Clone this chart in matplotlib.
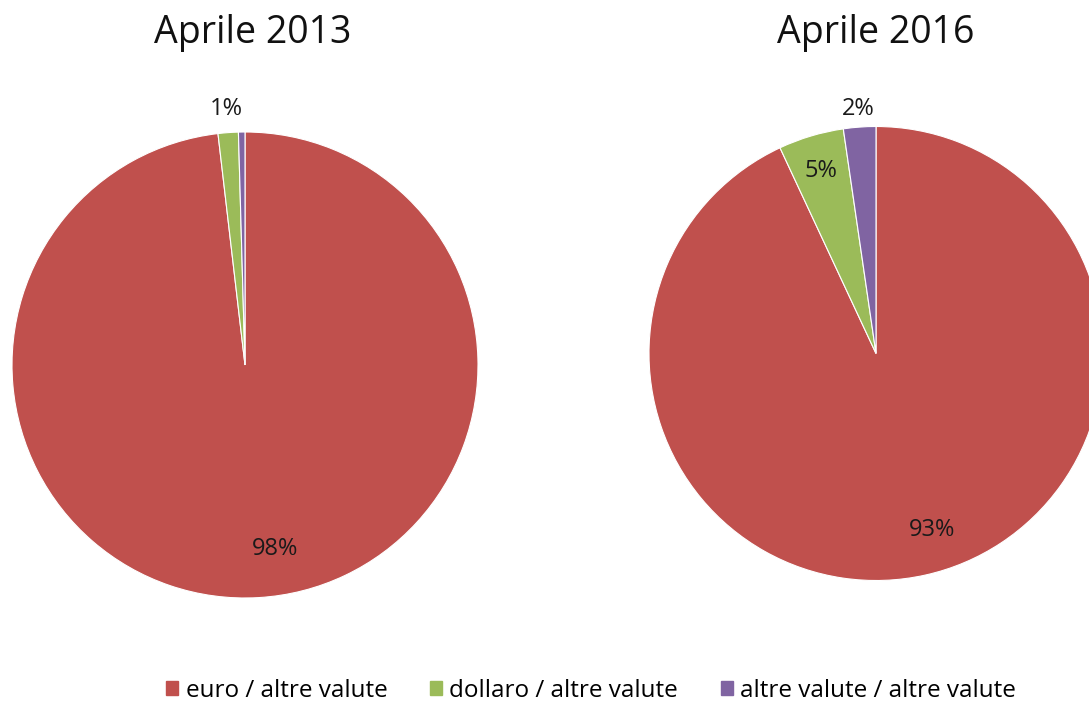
import matplotlib.pyplot as plt
import numpy as np

# data (share of turnover, %)
categories = ['euro / altre valute', 'dollaro / altre valute', 'altre valute / altre valute']
titles = ['Aprile 2013', 'Aprile 2016']
values_2013 = [98.15, 1.4, 0.45]
values_2016 = [93.05, 4.65, 2.3]
shown_2013 = ['98%', '1%', '']
shown_2016 = ['93%', '5%', '2%']

colors = ['#C0504D', '#9BBB59', '#8064A2']
font = ['Open Sans', 'DejaVu Sans']

W, H = 1089, 704
fig = plt.figure(figsize=(W / 100, H / 100), dpi=100)


def pie_axes(cx, cy, r):
    # cx, cy, r in pixels (y from top)
    return fig.add_axes([(cx - r) / W, (H - cy - r) / H, 2 * r / W, 2 * r / H])


def draw_pie(ax, vals, labels, dists, shifts):
    wedges, _ = ax.pie(vals, colors=colors, startangle=90, counterclock=False,
                       radius=1, wedgeprops=dict(edgecolor='white', linewidth=0.8))
    for w, lab, d, s in zip(wedges, labels, dists, shifts):
        if not lab:
            continue
        mid = np.deg2rad((w.theta1 + w.theta2) / 2 + s)
        ax.text(d * np.cos(mid), d * np.sin(mid), lab, ha='center', va='center',
                fontsize=17, color='#1a1a1a', family=font)
    ax.set_xlim(-1, 1)
    ax.set_ylim(-1, 1)
    ax.set_aspect('equal')
    ax.axis('off')


ax1 = pie_axes(245, 365, 233)
draw_pie(ax1, values_2013, shown_2013, [0.8, 1.1, 1.1], [6, 0, 0])
ax2 = pie_axes(876, 353.5, 227)
draw_pie(ax2, values_2016, shown_2016, [0.815, 0.84, 1.08], [5, 0, 0])

fig.text(253 / W, 1 - 33 / H, titles[0], ha='center', va='center', fontsize=27,
         family=font, color='#111111')
fig.text(876 / W, 1 - 33 / H, titles[1], ha='center', va='center', fontsize=27,
         family=font, color='#111111')

handles = [plt.Rectangle((0, 0), 1, 1, color=c) for c in colors]
fig.legend(handles, categories, loc='center', bbox_to_anchor=(591 / W, 1 - 691 / H),
           ncol=3, frameon=False, handlelength=0.5, handleheight=0.5,
           handletextpad=0.3, columnspacing=1.75,
           prop=dict(family=font, size=17.5))

fig.savefig('out.png', dpi=100)
